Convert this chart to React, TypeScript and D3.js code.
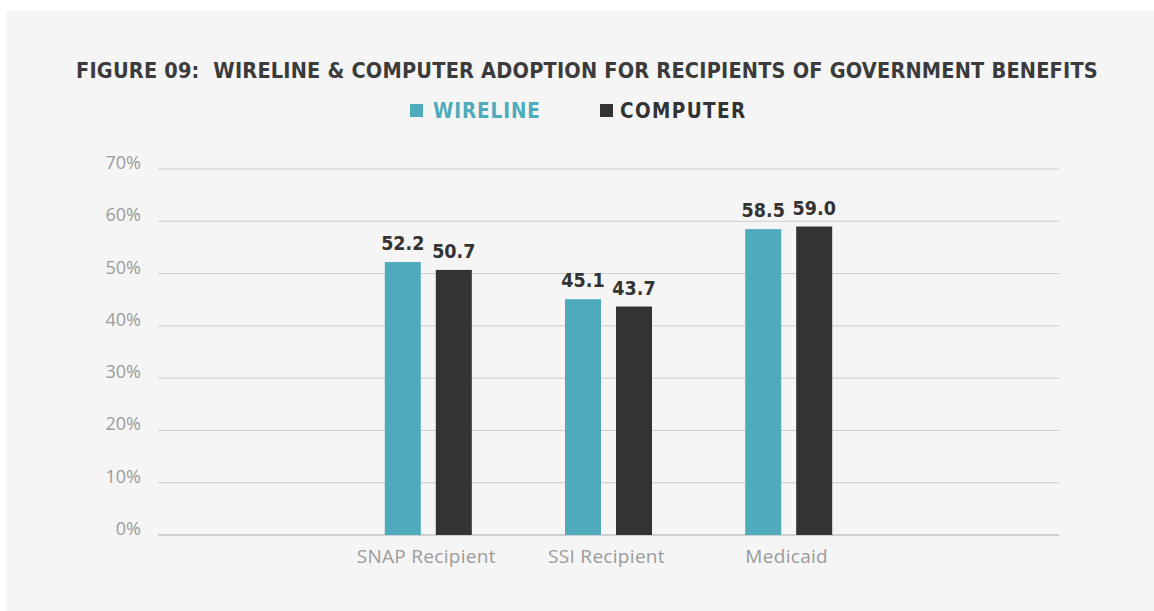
import React from "react";
import * as d3 from "d3";

const categories = ["SNAP Recipient", "SSI Recipient", "Medicaid"];
const seriesNames = ["WIRELINE", "COMPUTER"];
const wireline = [52.2, 45.1, 58.5];
const computer = [50.7, 43.7, 59.0];
const yTicks = [0, 10, 20, 30, 40, 50, 60, 70];
const title = "FIGURE 09:  WIRELINE & COMPUTER ADOPTION FOR RECIPIENTS OF GOVERNMENT BENEFITS";

const colors = ["#4fabbb", "#333333"];
const W = 1154;
const H = 611;
const plotLeft = 158;
const plotRight = 1059;
const y0 = 535;
const y70 = 169;
const condensed = "'DejaVu Sans Condensed', 'DejaVu Sans', sans-serif";
const sans = "'Open Sans', 'Noto Sans', sans-serif";

export default function App() {
  const bandW = (plotRight - plotLeft) / 5;
  const x = d3
    .scaleBand<string>()
    .domain(categories)
    .range([plotLeft + bandW, plotRight - bandW]);
  const y = d3.scaleLinear().domain([0, 70]).range([y0, y70]);
  const barW = 36;
  const gap = 15;
  const series = [wireline, computer];

  return (
    <svg
      width={W}
      height={H}
      style={{ position: "absolute", left: 0, top: 0, background: "#ffffff" }}
    >
      <rect x={6} y={11} width={W - 6} height={H - 11} fill="#f5f5f5" />
      <text
        x={587}
        y={78}
        textAnchor="middle"
        fontFamily={condensed}
        fontWeight="bold"
        fontSize={21.5}
        letterSpacing={0.2}
        fill="#3b3b3b"
        style={{ whiteSpace: "pre" }}
      >
        {title}
      </text>
      {/* legend */}
      <rect x={410} y={104} width={13} height={13} fill={colors[0]} />
      <text x={433} y={118} fontFamily={condensed} fontWeight="bold" fontSize={20.5} fill={colors[0]} letterSpacing={0.9}>
        {seriesNames[0]}
      </text>
      <rect x={600} y={104} width={13} height={13} fill={colors[1]} />
      <text x={620} y={118} fontFamily={condensed} fontWeight="bold" fontSize={20.5} fill={colors[1]} letterSpacing={1.4}>
        {seriesNames[1]}
      </text>
      {/* grid */}
      {yTicks.map((t) => (
        <g key={t}>
          <line
            x1={plotLeft}
            x2={plotRight}
            y1={y(t)}
            y2={y(t)}
            stroke={t === 0 ? "#cfcfcf" : "#cccccc"}
            strokeWidth={t === 0 ? 2 : 1}
          />
          <text
            x={141}
            y={y(t)}
            textAnchor="end"
            fontFamily={sans}
            fontSize={18}
            fill="#9b9b9b"
          >
            {`${t}%`}
          </text>
        </g>
      ))}
      {/* bars */}
      {categories.map((c, i) => {
        const cx = (x(c) as number) + x.bandwidth() / 2;
        return (
          <g key={c}>
            {series.map((s, j) => {
              const bx = j === 0 ? cx - gap / 2 - barW : cx + gap / 2;
              return (
                <g key={j}>
                  <rect x={bx} y={y(s[i])} width={barW} height={y0 - y(s[i])} fill={colors[j]} />
                  <text
                    x={bx + barW / 2}
                    y={y(s[i]) - 12}
                    textAnchor="middle"
                    fontFamily={condensed}
                    fontWeight="bold"
                    fontSize={19.5}
                    fill="#333333"
                  >
                    {s[i].toFixed(1)}
                  </text>
                </g>
              );
            })}
            <text
              x={cx - 2}
              y={563}
              textAnchor="middle"
              fontFamily={sans}
              fontSize={19}
              letterSpacing={0.3}
              fill="#9b9b9b"
            >
              {c}
            </text>
          </g>
        );
      })}
    </svg>
  );
}
